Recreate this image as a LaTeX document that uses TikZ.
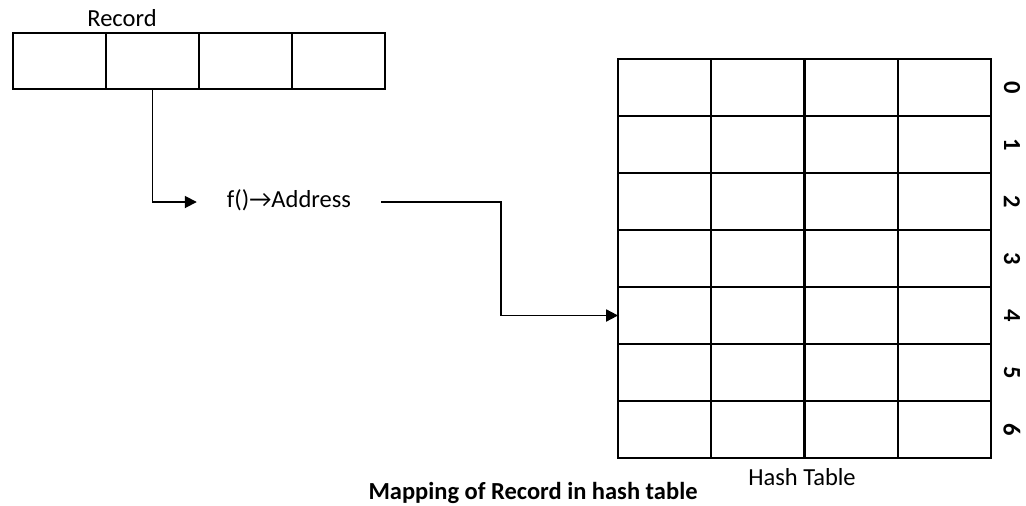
\documentclass[tikz,border=0pt]{standalone}
\usepackage{fontspec}
\setmainfont{Carlito}
\usetikzlibrary{positioning,arrows.meta}

\begin{document}
\begin{tikzpicture}[x=1pt, y=-1pt, >={Triangle[length=12pt,width=12pt]},
    cell/.style={draw, line width=1.8pt, minimum width=93pt, minimum height=57pt, inner sep=0pt, outer sep=0pt},
    link/.style={line width=1.8pt, ->},
    lbl/.style={font=\fontsize{24.5}{28}\selectfont},
    bold/.style={font=\fontsize{24.5}{28}\selectfont\bfseries}]

        \useasboundingbox (0,0) rectangle (1026,506);

        % record
        \foreach \i in {1,...,4}
            \node[cell, minimum height=56pt] (r\i) at ({13+93*(\i-0.5)},61) {};
        \node[lbl] (rec) at (122,18) {Record};

        % hash table with row numbers
        \foreach \r in {0,...,6} {
            \foreach \c in {1,...,4}
                \node[cell] (h\r-\c) at ({618+93.25*(\c-0.5)},{59+57*(\r+0.5)}) {};
            \node[bold, rotate=-90] (n\r) at (1012,{59+57*(\r+0.5)}) {\r};
        }
        \node[lbl] (ht) at (802,477) {Hash Table};

        % hash function
        \node[lbl, inner xsep=30pt] (fn) at (289,200) {f()→Address};
        \draw[link] (r2.south) |- ([yshift=-2pt]fn.west);
        \draw[link] ([yshift=-2pt]fn.east) -- ++(120,0) |- (h4-1.west);

        % caption
        \node[bold] (cap) at (533,493) {Mapping of Record in hash table};

    \end{tikzpicture}
\end{document}
